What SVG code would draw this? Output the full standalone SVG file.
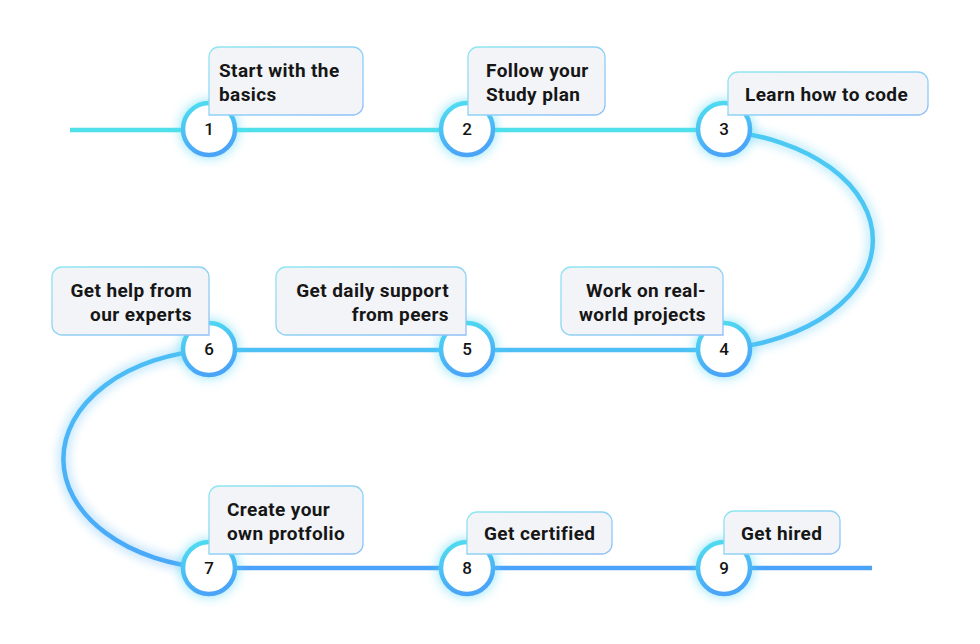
<svg xmlns="http://www.w3.org/2000/svg" width="980" height="644" viewBox="0 0 980 644">
  <defs>
    <linearGradient id="arcR" x1="0" y1="0" x2="0" y2="1">
      <stop offset="0" stop-color="#4ccaf3"/>
      <stop offset="1" stop-color="#4cc0f5"/>
    </linearGradient>
    <linearGradient id="arcL" x1="0" y1="0" x2="0" y2="1">
      <stop offset="0" stop-color="#4cbef5"/>
      <stop offset="1" stop-color="#4aa8f8"/>
    </linearGradient>
    <linearGradient id="ringGrad" x1="0" y1="0" x2="0.3" y2="1">
      <stop offset="0" stop-color="#4fe0ef"/>
      <stop offset="1" stop-color="#4aa4f8"/>
    </linearGradient>
    <linearGradient id="boxStroke" x1="0" y1="0" x2="1" y2="1">
      <stop offset="0" stop-color="#8fe6f1"/>
      <stop offset="1" stop-color="#8fbff8"/>
    </linearGradient>
    <filter id="glow" x="-20%" y="-20%" width="140%" height="140%">
      <feGaussianBlur stdDeviation="5"/>
    </filter>
    <filter id="cglow" x="-50%" y="-50%" width="200%" height="200%">
      <feGaussianBlur stdDeviation="6"/>
    </filter>
  </defs>
  <style>
    .path { fill: none; stroke-width: 4.5; }
    .halo { fill: none; stroke-width: 12; opacity: 0.3; filter: url(#glow); }
    .top { stroke: #4fe0ea; }
    .ra { stroke: url(#arcR); }
    .mid { stroke: #4dbff5; }
    .la { stroke: url(#arcL); }
    .bot { stroke: #4aa2f9; }
    .chalo { fill: #4fd6f2; opacity: 0.6; filter: url(#cglow); }
    .ring { fill: #ffffff; stroke: url(#ringGrad); stroke-width: 4.5; }
    .num { font-family: Roboto, "Liberation Sans", sans-serif; font-weight: 500; font-size: 17px; fill: #141414; text-anchor: middle; }
    .box { fill: #f3f4f8; stroke: url(#boxStroke); stroke-width: 1.3; }
    .lbl { font-family: Roboto, "Liberation Sans", sans-serif; font-weight: 700; font-size: 19px; letter-spacing: 0.4px; fill: #161616; }
    .r { text-anchor: end; }
  </style>

  <g id="connectors">
    <g class="halos">
      <path class="halo top" d="M70,130 H724"/>
      <path class="halo ra" d="M724,131 A172,110 0 0 1 724,349"/>
      <path class="halo mid" d="M209,350 H724"/>
      <path class="halo la" d="M209,350 A161,109.5 0 0 0 209,568"/>
      <path class="halo bot" d="M209,568 H872"/>
    </g>
    <path class="path top" d="M70,130 H724"/>
    <path class="path ra" d="M724,131 A172,110 0 0 1 724,349"/>
    <path class="path mid" d="M209,350 H724"/>
    <path class="path la" d="M209,350 A161,109.5 0 0 0 209,568"/>
    <path class="path bot" d="M209,568 H872"/>
  </g>

  <g id="node1">
    <circle class="chalo" cx="209" cy="129" r="29"/>
    <circle class="ring" cx="209" cy="129" r="26"/>
    <text class="num" x="209" y="135">1</text>
    <path class="box" d="M209,115 V57 A10,10 0 0 1 219,47 H353 A10,10 0 0 1 363,57 V105 A10,10 0 0 1 353,115 Z"/>
    <text class="lbl" x="219" y="77">Start with the</text>
    <text class="lbl" x="219" y="101">basics</text>
  </g>

  <g id="node2">
    <circle class="chalo" cx="467" cy="129" r="29"/>
    <circle class="ring" cx="467" cy="129" r="26"/>
    <text class="num" x="467" y="135">2</text>
    <path class="box" d="M468,115 V57 A10,10 0 0 1 478,47 H595 A10,10 0 0 1 605,57 V105 A10,10 0 0 1 595,115 Z"/>
    <text class="lbl" x="486" y="77">Follow your</text>
    <text class="lbl" x="486" y="101">Study plan</text>
  </g>

  <g id="node3">
    <circle class="chalo" cx="724" cy="129" r="29"/>
    <circle class="ring" cx="724" cy="129" r="26"/>
    <text class="num" x="724" y="135">3</text>
    <path class="box" d="M728,115 V82 A10,10 0 0 1 738,72 H918 A10,10 0 0 1 928,82 V105 A10,10 0 0 1 918,115 Z"/>
    <text class="lbl" x="745" y="101">Learn how to code</text>
  </g>

  <g id="node4">
    <circle class="chalo" cx="724" cy="349" r="29"/>
    <circle class="ring" cx="724" cy="349" r="26"/>
    <text class="num" x="724" y="355">4</text>
    <path class="box" d="M723,335 H571 A10,10 0 0 1 561,325 V277 A10,10 0 0 1 571,267 H713 A10,10 0 0 1 723,277 Z"/>
    <text class="lbl r" x="706" y="297">Work on real-</text>
    <text class="lbl r" x="706" y="321">world projects</text>
  </g>

  <g id="node5">
    <circle class="chalo" cx="467" cy="349" r="29"/>
    <circle class="ring" cx="467" cy="349" r="26"/>
    <text class="num" x="467" y="355">5</text>
    <path class="box" d="M466,335 H286 A10,10 0 0 1 276,325 V277 A10,10 0 0 1 286,267 H456 A10,10 0 0 1 466,277 Z"/>
    <text class="lbl r" x="449" y="297">Get daily support</text>
    <text class="lbl r" x="449" y="321">from peers</text>
  </g>

  <g id="node6">
    <circle class="chalo" cx="209" cy="349" r="29"/>
    <circle class="ring" cx="209" cy="349" r="26"/>
    <text class="num" x="209" y="355">6</text>
    <path class="box" d="M209,335 H62 A10,10 0 0 1 52,325 V277 A10,10 0 0 1 62,267 H199 A10,10 0 0 1 209,277 Z"/>
    <text class="lbl r" x="192" y="297">Get help from</text>
    <text class="lbl r" x="192" y="321">our experts</text>
  </g>

  <g id="node7">
    <circle class="chalo" cx="209" cy="568" r="29"/>
    <circle class="ring" cx="209" cy="568" r="26"/>
    <text class="num" x="209" y="574">7</text>
    <path class="box" d="M209,554 V496 A10,10 0 0 1 219,486 H353 A10,10 0 0 1 363,496 V544 A10,10 0 0 1 353,554 Z"/>
    <text class="lbl" x="227" y="516">Create your</text>
    <text class="lbl" x="227" y="540">own protfolio</text>
  </g>

  <g id="node8">
    <circle class="chalo" cx="467" cy="568" r="29"/>
    <circle class="ring" cx="467" cy="568" r="26"/>
    <text class="num" x="467" y="574">8</text>
    <path class="box" d="M467,554 V522 A10,10 0 0 1 477,512 H602 A10,10 0 0 1 612,522 V544 A10,10 0 0 1 602,554 Z"/>
    <text class="lbl" x="484" y="540">Get certified</text>
  </g>

  <g id="node9">
    <circle class="chalo" cx="724" cy="568" r="29"/>
    <circle class="ring" cx="724" cy="568" r="26"/>
    <text class="num" x="724" y="574">9</text>
    <path class="box" d="M724,554 V521 A10,10 0 0 1 734,511 H830 A10,10 0 0 1 840,521 V544 A10,10 0 0 1 830,554 Z"/>
    <text class="lbl" x="741" y="540">Get hired</text>
  </g>
</svg>
